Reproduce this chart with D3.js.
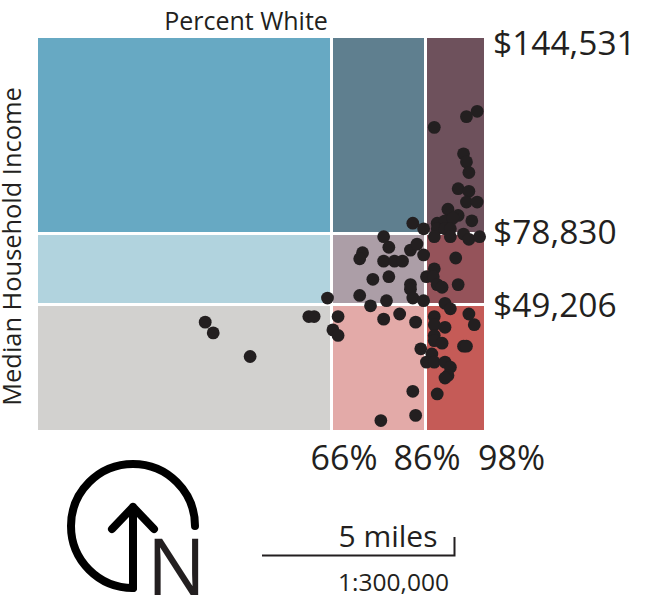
<!DOCTYPE html>
<html>
<head>
<meta charset="utf-8">
<script src="https://cdn.jsdelivr.net/npm/d3@7"></script>
<style>
  body { margin: 0; background: #fff; }
  text { font-family: "Open Sans", sans-serif; fill: #231f20; }
  .domain { display: none; }
</style>
</head>
<body>
<div id="chart"></div>
<script>
// class breaks, the bins are not even so the scales are piecewise
var whiteBreaks = [0, 66, 86, 98];
var incomeBreaks = [144531, 78830, 49206, 20000];
var whiteTicks = [66, 86, 98];
var incomeTicks = [144531, 78830, 49206];

// rows top to bottom, columns left to right
var cellColors = [
  ["#67a9c3", "#5f7f8f", "#6e515c"],
  ["#b1d3de", "#ac9ea7", "#95535a"],
  ["#d2d1cf", "#e3aaa8", "#c55b57"]
];

// one entry per tract
var pctWhite = [96.6, 94.4, 87.8, 93.8, 94.4, 94.9, 92.7, 94.9, 94.4, 96.6,
  90.6, 92.7, 83.3, 85.6, 88.4, 90.0, 91.6, 95.5, 88.4, 90.0,
  91.1, 87.8, 91.1, 93.8, 94.9, 97.1, 77.1, 78.2, 72.6, 72.0,
  77.1, 79.4, 81.1, 82.8, 84.2, 85.6, 92.2, 87.8, 86.2, 74.8,
  78.2, 87.6, 88.4, 89.4, 92.7, 82.8, 82.8, 72.0, 83.3, 85.6,
  77.7, 65.1, 74.3, 90.0, 91.1, 94.9, 96.0, 80.5, 77.1, 83.9,
  67.4, 87.8, 87.8, 90.0, 66.3, 67.4, 87.8, 87.8, 89.4, 93.8,
  94.4, 85.0, 87.3, 86.2, 87.8, 90.0, 91.1, 90.6, 90.0, 83.3,
  88.4, 83.9, 76.5, 37.6, 39.4, 47.7, 60.9, 62.1];
var income = [119900, 118100, 114500, 105600, 102900, 99300, 93900, 93000, 89400, 89400,
  87000, 84900, 82300, 80400, 82300, 83100, 84000, 83100, 80400, 80400,
  80400, 77500, 77500, 78600, 76400, 77500, 77500, 73100, 70800, 68300,
  67300, 67300, 67300, 71900, 74400, 69900, 68600, 64100, 60800, 59700,
  60800, 60800, 57500, 56400, 57500, 57500, 55600, 53000, 51900, 50800,
  50800, 51900, 48900, 49700, 48200, 47000, 44500, 47000, 45800, 45100,
  46400, 46400, 44500, 43900, 43300, 42000, 42000, 40800, 40200, 39500,
  39500, 38900, 37700, 35800, 35800, 35800, 34600, 32700, 32100, 29000,
  28400, 23400, 22200, 45100, 42600, 37100, 46400, 46400];

var svg = d3.select("#chart")
  .append("svg")
    .attr("width", 655)
    .attr("height", 603);

var x = d3.scaleLinear()
    .domain(whiteBreaks)
    .range([38, 331.5, 425.5, 484]);

var y = d3.scaleLinear()
    .domain(incomeBreaks)
    .range([38, 233.5, 304.5, 430]);

// the 3x3 background
cellColors.forEach(function(row, r) {
  row.forEach(function(color, c) {
    svg.append("rect")
      .attr("x", x(whiteBreaks[c]) + (c > 0 ? 1.5 : 0))
      .attr("y", y(incomeBreaks[r]) + (r > 0 ? 1.5 : 0))
      .attr("width", x(whiteBreaks[c + 1]) - x(whiteBreaks[c]) - (c > 0 ? 1.5 : 0) - (c < 2 ? 1.5 : 0))
      .attr("height", y(incomeBreaks[r + 1]) - y(incomeBreaks[r]) - (r > 0 ? 1.5 : 0) - (r < 2 ? 1.5 : 0))
      .attr("fill", color);
  });
});

svg.selectAll("circle")
    .data(pctWhite)
  .enter().append("circle")
    .attr("cx", function(d) { return x(d); })
    .attr("cy", function(d, i) { return y(income[i]); })
    .attr("r", 6.4)
    .attr("fill", "#231f20");

// axes, no tick marks just the labels
var xLabelShift = {66: 12, 86: 1, 98: 27};
var xAxis = svg.append("g")
    .attr("transform", "translate(0,446)")
    .call(d3.axisBottom(x)
      .tickValues(whiteTicks)
      .tickSize(0)
      .tickPadding(0)
      .tickFormat(function(d) { return d + "%"; }));
xAxis.selectAll("text")
    .style("font-size", "34px")
    .attr("dx", function(d) { return xLabelShift[d]; })
    .attr("y", 0)
    .attr("dy", "0.71em");

var yLabelShift = {144531: 4, 78830: -2, 49206: 0};
var yAxis = svg.append("g")
    .attr("transform", "translate(493,0)")
    .call(d3.axisRight(y)
      .tickValues(incomeTicks)
      .tickSize(0)
      .tickPadding(0)
      .tickFormat(function(d) { return "$" + d3.format(",")(d); }));
yAxis.selectAll("text")
    .style("font-size", "33.5px")
    .attr("dy", "0.36em")
    .attr("y", function(d) { return yLabelShift[d]; });

svg.append("text")
    .attr("x", 246)
    .attr("y", 30)
    .attr("text-anchor", "middle")
    .style("font-size", "25px")
    .text("Percent White");

svg.append("text")
    .attr("transform", "translate(21,246.5) rotate(-90)")
    .attr("text-anchor", "middle")
    .style("font-size", "25.4px")
    .text("Median Household Income");

// north arrow
var north = svg.append("g")
    .attr("fill", "none")
    .attr("stroke", "#000")
    .attr("stroke-width", 8)
    .attr("stroke-linecap", "round")
    .attr("stroke-linejoin", "round");
north.append("path")
    .attr("transform", "translate(133,526)")
    .attr("d", d3.arc()({innerRadius: 62, outerRadius: 62, startAngle: Math.PI, endAngle: 2.5 * Math.PI}));
north.append("path").attr("d", "M133,588V507M112,529L133,507L154,529");

svg.append("text")
    .attr("x", 147)
    .attr("y", 595)
    .style("font-size", "78px")
    .text("N");

// scale bar
svg.append("path")
    .attr("d", "M262,555.5H454.5V537")
    .attr("fill", "none")
    .attr("stroke", "#231f20")
    .attr("stroke-width", 2);

svg.append("text")
    .attr("x", 388)
    .attr("y", 547)
    .attr("text-anchor", "middle")
    .style("font-size", "30px")
    .text("5 miles");

svg.append("text")
    .attr("x", 393.5)
    .attr("y", 591)
    .attr("text-anchor", "middle")
    .style("font-size", "24.5px")
    .text("1:300,000");
</script>
</body>
</html>
